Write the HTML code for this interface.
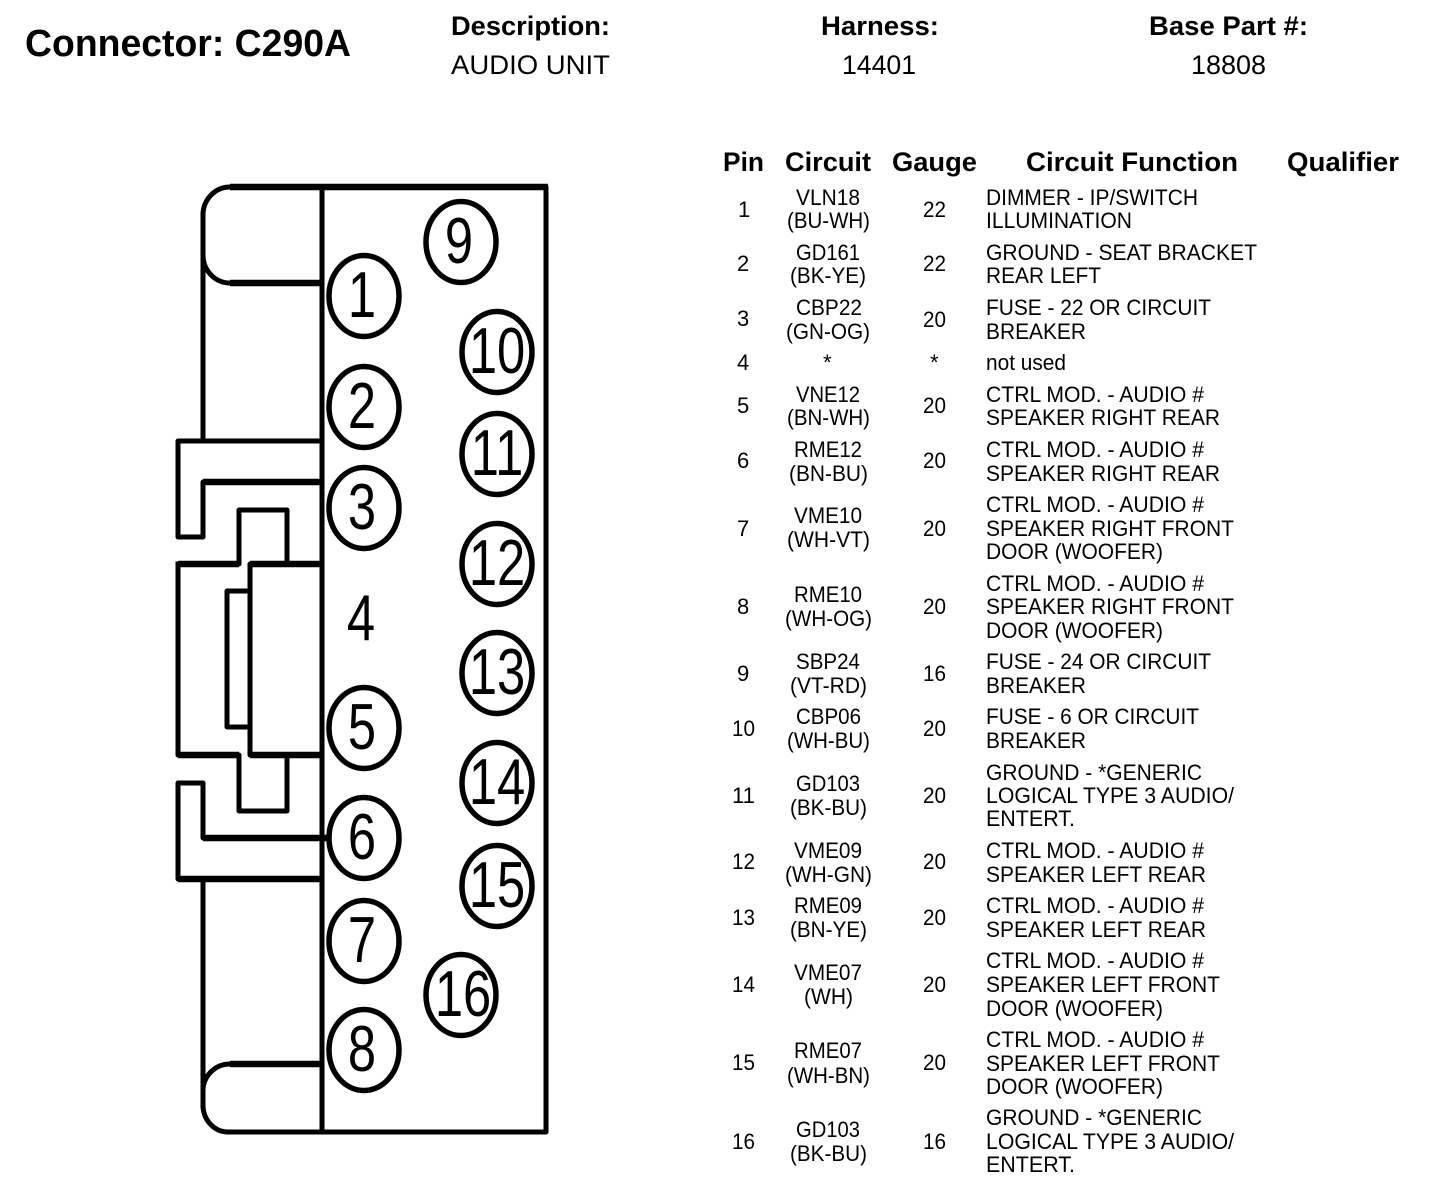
<!DOCTYPE html>
<html><head><meta charset="utf-8"><style>
html,body{margin:0;padding:0;background:#fff;width:1440px;height:1202px;overflow:hidden}
svg{display:block}
text{font-family:"Liberation Sans",Arial,sans-serif;fill:#000}
.b{font-weight:bold;font-size:27px}
.r{font-size:27px}
.t{font-size:22px}
.d{font-size:65px;text-anchor:middle}
.l{fill:none;stroke:#000;stroke-width:5;stroke-linejoin:round;stroke-linecap:square}
.h{fill:none;stroke:#000;stroke-width:6.5;stroke-linecap:butt}
.c{fill:#fff;stroke:#000;stroke-width:5.5}
</style></head><body>
<svg width="1440" height="1202" viewBox="0 0 1440 1202" xmlns="http://www.w3.org/2000/svg">
<rect width="1440" height="1202" fill="#fff"/>
<text class="b" x="25" y="56" style="font-size:38px" textLength="326" lengthAdjust="spacingAndGlyphs">Connector: C290A</text>
<text class="b" x="451" y="35" textLength="159" lengthAdjust="spacingAndGlyphs">Description:</text>
<text class="r" x="451" y="74" textLength="159" lengthAdjust="spacingAndGlyphs">AUDIO UNIT</text>
<text class="b" x="821" y="35" textLength="118" lengthAdjust="spacingAndGlyphs">Harness:</text>
<text class="r" x="842" y="74" textLength="74" lengthAdjust="spacingAndGlyphs">14401</text>
<text class="b" x="1149" y="35" textLength="159" lengthAdjust="spacingAndGlyphs">Base Part #:</text>
<text class="r" x="1191" y="74" textLength="75" lengthAdjust="spacingAndGlyphs">18808</text>

<text class="b" x="723" y="171" textLength="41" lengthAdjust="spacingAndGlyphs">Pin</text>
<text class="b" x="785" y="171" textLength="86" lengthAdjust="spacingAndGlyphs">Circuit</text>
<text class="b" x="892" y="171" textLength="85" lengthAdjust="spacingAndGlyphs">Gauge</text>
<text class="b" x="1026" y="171" textLength="212" lengthAdjust="spacingAndGlyphs">Circuit Function</text>
<text class="b" x="1287" y="171" textLength="112" lengthAdjust="spacingAndGlyphs">Qualifier</text>

<!-- connector outline -->
<path class="l" d="M322 187H546V1132H228A25 27 0 0 1 203 1105V879"/>
<path class="l" d="M322 187H230A27 28 0 0 0 203 215V255A27 28 0 0 0 230 283H322"/>
<path class="l" d="M203 215V441"/>
<path class="l" d="M322 187V1132"/>
<path class="l" d="M322 441H178V537H203V482H322"/>
<path class="l" d="M178 564H239V510H287V564"/>
<path class="l" d="M322 564H250V755H322"/>
<path class="l" d="M178 564V755H239V811H287V755"/>
<path class="l" d="M250 591H227V727H250"/>
<path class="l" d="M328 838H203V783H178V879H322"/>
<path class="l" d="M203 1105V1091A27 27 0 0 1 230 1064H322"/>
<!-- heavier horizontal rules -->
<path class="h" d="M230 187H548M230 283H322M203 482H322M178 564H239M250 564H322M178 755H239M250 755H322M203 838H328M178 879H322M230 1064H322"/>

<!-- cavities -->
<ellipse class="c" cx="364" cy="296" rx="35" ry="40.5"/>
<ellipse class="c" cx="364" cy="407" rx="35" ry="40.5"/>
<ellipse class="c" cx="364" cy="508" rx="35" ry="40.5"/>
<ellipse class="c" cx="364" cy="728" rx="35" ry="40.5"/>
<ellipse class="c" cx="364" cy="838" rx="35" ry="40.5"/>
<ellipse class="c" cx="364" cy="941" rx="35" ry="40.5"/>
<ellipse class="c" cx="364" cy="1050" rx="35" ry="40.5"/>
<ellipse class="c" cx="461" cy="242" rx="35" ry="40.5"/>
<ellipse class="c" cx="497" cy="352" rx="35" ry="40.5"/>
<ellipse class="c" cx="497" cy="454" rx="35" ry="40.5"/>
<ellipse class="c" cx="497" cy="564" rx="35" ry="40.5"/>
<ellipse class="c" cx="497" cy="673" rx="35" ry="40.5"/>
<ellipse class="c" cx="497" cy="783" rx="35" ry="40.5"/>
<ellipse class="c" cx="497" cy="886" rx="35" ry="40.5"/>
<ellipse class="c" cx="461" cy="995" rx="35" ry="40.5"/>

<text class="d" transform="translate(362 317) scale(.78 1)">1</text>
<text class="d" transform="translate(362 428) scale(.78 1)">2</text>
<text class="d" transform="translate(362 529) scale(.78 1)">3</text>
<text class="d" transform="translate(361 640) scale(.78 1)">4</text>
<text class="d" transform="translate(362 749) scale(.78 1)">5</text>
<text class="d" transform="translate(362 859) scale(.78 1)">6</text>
<text class="d" transform="translate(362 962) scale(.78 1)">7</text>
<text class="d" transform="translate(362 1071) scale(.78 1)">8</text>
<text class="d" transform="translate(459 263) scale(.78 1)">9</text>
<text class="d" transform="translate(497 373) scale(.78 1)">10</text>
<text class="d" transform="translate(497 475) scale(.78 1)">11</text>
<text class="d" transform="translate(497 585) scale(.78 1)">12</text>
<text class="d" transform="translate(497 694) scale(.78 1)">13</text>
<text class="d" transform="translate(497 804) scale(.78 1)">14</text>
<text class="d" transform="translate(497 907) scale(.78 1)">15</text>
<text class="d" transform="translate(463 1016) scale(.78 1)">16</text>

<!-- pins -->
<text class="t" x="738" y="217">1</text>
<text class="t" x="737" y="271">2</text>
<text class="t" x="737" y="326">3</text>
<text class="t" x="737" y="370">4</text>
<text class="t" x="737" y="413">5</text>
<text class="t" x="737" y="468">6</text>
<text class="t" x="737" y="536">7</text>
<text class="t" x="737" y="614">8</text>
<text class="t" x="737" y="681">9</text>
<text class="t" x="732" y="736" textLength="23" lengthAdjust="spacingAndGlyphs">10</text>
<text class="t" x="732" y="803" textLength="23" lengthAdjust="spacingAndGlyphs">11</text>
<text class="t" x="732" y="869" textLength="23" lengthAdjust="spacingAndGlyphs">12</text>
<text class="t" x="732" y="925" textLength="23" lengthAdjust="spacingAndGlyphs">13</text>
<text class="t" x="732" y="992" textLength="23" lengthAdjust="spacingAndGlyphs">14</text>
<text class="t" x="732" y="1070" textLength="23" lengthAdjust="spacingAndGlyphs">15</text>
<text class="t" x="732" y="1149" textLength="23" lengthAdjust="spacingAndGlyphs">16</text>

<!-- circuits -->
<text class="t" x="796" y="205" textLength="64" lengthAdjust="spacingAndGlyphs">VLN18</text>
<text class="t" x="787" y="228" textLength="83" lengthAdjust="spacingAndGlyphs">(BU-WH)</text>
<text class="t" x="796" y="260" textLength="64" lengthAdjust="spacingAndGlyphs">GD161</text>
<text class="t" x="790" y="283" textLength="76" lengthAdjust="spacingAndGlyphs">(BK-YE)</text>
<text class="t" x="796" y="315" textLength="66" lengthAdjust="spacingAndGlyphs">CBP22</text>
<text class="t" x="786" y="339" textLength="84" lengthAdjust="spacingAndGlyphs">(GN-OG)</text>
<text class="t" x="823" y="370">*</text>
<text class="t" x="796" y="402" textLength="64" lengthAdjust="spacingAndGlyphs">VNE12</text>
<text class="t" x="787" y="425" textLength="83" lengthAdjust="spacingAndGlyphs">(BN-WH)</text>
<text class="t" x="794" y="457" textLength="68" lengthAdjust="spacingAndGlyphs">RME12</text>
<text class="t" x="789" y="481" textLength="79" lengthAdjust="spacingAndGlyphs">(BN-BU)</text>
<text class="t" x="794" y="523" textLength="68" lengthAdjust="spacingAndGlyphs">VME10</text>
<text class="t" x="787" y="547" textLength="83" lengthAdjust="spacingAndGlyphs">(WH-VT)</text>
<text class="t" x="794" y="602" textLength="68" lengthAdjust="spacingAndGlyphs">RME10</text>
<text class="t" x="785" y="626" textLength="87" lengthAdjust="spacingAndGlyphs">(WH-OG)</text>
<text class="t" x="796" y="669" textLength="64" lengthAdjust="spacingAndGlyphs">SBP24</text>
<text class="t" x="790" y="693" textLength="77" lengthAdjust="spacingAndGlyphs">(VT-RD)</text>
<text class="t" x="796" y="724" textLength="65" lengthAdjust="spacingAndGlyphs">CBP06</text>
<text class="t" x="787" y="748" textLength="83" lengthAdjust="spacingAndGlyphs">(WH-BU)</text>
<text class="t" x="796" y="791" textLength="64" lengthAdjust="spacingAndGlyphs">GD103</text>
<text class="t" x="790" y="815" textLength="77" lengthAdjust="spacingAndGlyphs">(BK-BU)</text>
<text class="t" x="794" y="858" textLength="68" lengthAdjust="spacingAndGlyphs">VME09</text>
<text class="t" x="785" y="882" textLength="87" lengthAdjust="spacingAndGlyphs">(WH-GN)</text>
<text class="t" x="794" y="913" textLength="68" lengthAdjust="spacingAndGlyphs">RME09</text>
<text class="t" x="790" y="937" textLength="77" lengthAdjust="spacingAndGlyphs">(BN-YE)</text>
<text class="t" x="794" y="980" textLength="68" lengthAdjust="spacingAndGlyphs">VME07</text>
<text class="t" x="804" y="1004" textLength="49" lengthAdjust="spacingAndGlyphs">(WH)</text>
<text class="t" x="794" y="1058" textLength="68" lengthAdjust="spacingAndGlyphs">RME07</text>
<text class="t" x="787" y="1083" textLength="83" lengthAdjust="spacingAndGlyphs">(WH-BN)</text>
<text class="t" x="796" y="1137" textLength="64" lengthAdjust="spacingAndGlyphs">GD103</text>
<text class="t" x="790" y="1161" textLength="77" lengthAdjust="spacingAndGlyphs">(BK-BU)</text>

<!-- gauges -->
<text class="t" x="923" y="217" textLength="23" lengthAdjust="spacingAndGlyphs">22</text>
<text class="t" x="923" y="271" textLength="23" lengthAdjust="spacingAndGlyphs">22</text>
<text class="t" x="923" y="327" textLength="23" lengthAdjust="spacingAndGlyphs">20</text>
<text class="t" x="930" y="370">*</text>
<text class="t" x="923" y="413" textLength="23" lengthAdjust="spacingAndGlyphs">20</text>
<text class="t" x="923" y="468" textLength="23" lengthAdjust="spacingAndGlyphs">20</text>
<text class="t" x="923" y="536" textLength="23" lengthAdjust="spacingAndGlyphs">20</text>
<text class="t" x="923" y="614" textLength="23" lengthAdjust="spacingAndGlyphs">20</text>
<text class="t" x="923" y="681" textLength="23" lengthAdjust="spacingAndGlyphs">16</text>
<text class="t" x="923" y="736" textLength="23" lengthAdjust="spacingAndGlyphs">20</text>
<text class="t" x="923" y="803" textLength="23" lengthAdjust="spacingAndGlyphs">20</text>
<text class="t" x="923" y="869" textLength="23" lengthAdjust="spacingAndGlyphs">20</text>
<text class="t" x="923" y="925" textLength="23" lengthAdjust="spacingAndGlyphs">20</text>
<text class="t" x="923" y="992" textLength="23" lengthAdjust="spacingAndGlyphs">20</text>
<text class="t" x="923" y="1070" textLength="23" lengthAdjust="spacingAndGlyphs">20</text>
<text class="t" x="923" y="1149" textLength="23" lengthAdjust="spacingAndGlyphs">16</text>

<!-- functions -->
<text class="t" x="986" y="205" textLength="212" lengthAdjust="spacingAndGlyphs">DIMMER - IP/SWITCH</text>
<text class="t" x="986" y="228" textLength="146" lengthAdjust="spacingAndGlyphs">ILLUMINATION</text>
<text class="t" x="986" y="260" textLength="271" lengthAdjust="spacingAndGlyphs">GROUND - SEAT BRACKET</text>
<text class="t" x="986" y="283" textLength="115" lengthAdjust="spacingAndGlyphs">REAR LEFT</text>
<text class="t" x="986" y="315" textLength="225" lengthAdjust="spacingAndGlyphs">FUSE - 22 OR CIRCUIT</text>
<text class="t" x="986" y="339" textLength="100" lengthAdjust="spacingAndGlyphs">BREAKER</text>
<text class="t" x="986" y="370" textLength="80" lengthAdjust="spacingAndGlyphs">not used</text>
<text class="t" x="986" y="402" textLength="218" lengthAdjust="spacingAndGlyphs">CTRL MOD. - AUDIO #</text>
<text class="t" x="986" y="425" textLength="234" lengthAdjust="spacingAndGlyphs">SPEAKER RIGHT REAR</text>
<text class="t" x="986" y="457" textLength="218" lengthAdjust="spacingAndGlyphs">CTRL MOD. - AUDIO #</text>
<text class="t" x="986" y="481" textLength="234" lengthAdjust="spacingAndGlyphs">SPEAKER RIGHT REAR</text>
<text class="t" x="986" y="512" textLength="218" lengthAdjust="spacingAndGlyphs">CTRL MOD. - AUDIO #</text>
<text class="t" x="986" y="536" textLength="248" lengthAdjust="spacingAndGlyphs">SPEAKER RIGHT FRONT</text>
<text class="t" x="986" y="559" textLength="177" lengthAdjust="spacingAndGlyphs">DOOR (WOOFER)</text>
<text class="t" x="986" y="591" textLength="218" lengthAdjust="spacingAndGlyphs">CTRL MOD. - AUDIO #</text>
<text class="t" x="986" y="614" textLength="248" lengthAdjust="spacingAndGlyphs">SPEAKER RIGHT FRONT</text>
<text class="t" x="986" y="638" textLength="177" lengthAdjust="spacingAndGlyphs">DOOR (WOOFER)</text>
<text class="t" x="986" y="669" textLength="225" lengthAdjust="spacingAndGlyphs">FUSE - 24 OR CIRCUIT</text>
<text class="t" x="986" y="693" textLength="100" lengthAdjust="spacingAndGlyphs">BREAKER</text>
<text class="t" x="986" y="724" textLength="213" lengthAdjust="spacingAndGlyphs">FUSE - 6 OR CIRCUIT</text>
<text class="t" x="986" y="748" textLength="100" lengthAdjust="spacingAndGlyphs">BREAKER</text>
<text class="t" x="986" y="780" textLength="216" lengthAdjust="spacingAndGlyphs">GROUND - *GENERIC</text>
<text class="t" x="986" y="803" textLength="248" lengthAdjust="spacingAndGlyphs">LOGICAL TYPE 3 AUDIO/</text>
<text class="t" x="986" y="826" textLength="89" lengthAdjust="spacingAndGlyphs">ENTERT.</text>
<text class="t" x="986" y="858" textLength="218" lengthAdjust="spacingAndGlyphs">CTRL MOD. - AUDIO #</text>
<text class="t" x="986" y="882" textLength="220" lengthAdjust="spacingAndGlyphs">SPEAKER LEFT REAR</text>
<text class="t" x="986" y="913" textLength="218" lengthAdjust="spacingAndGlyphs">CTRL MOD. - AUDIO #</text>
<text class="t" x="986" y="937" textLength="220" lengthAdjust="spacingAndGlyphs">SPEAKER LEFT REAR</text>
<text class="t" x="986" y="968" textLength="218" lengthAdjust="spacingAndGlyphs">CTRL MOD. - AUDIO #</text>
<text class="t" x="986" y="992" textLength="234" lengthAdjust="spacingAndGlyphs">SPEAKER LEFT FRONT</text>
<text class="t" x="986" y="1016" textLength="177" lengthAdjust="spacingAndGlyphs">DOOR (WOOFER)</text>
<text class="t" x="986" y="1047" textLength="218" lengthAdjust="spacingAndGlyphs">CTRL MOD. - AUDIO #</text>
<text class="t" x="986" y="1071" textLength="234" lengthAdjust="spacingAndGlyphs">SPEAKER LEFT FRONT</text>
<text class="t" x="986" y="1094" textLength="177" lengthAdjust="spacingAndGlyphs">DOOR (WOOFER)</text>
<text class="t" x="986" y="1125" textLength="216" lengthAdjust="spacingAndGlyphs">GROUND - *GENERIC</text>
<text class="t" x="986" y="1149" textLength="248" lengthAdjust="spacingAndGlyphs">LOGICAL TYPE 3 AUDIO/</text>
<text class="t" x="986" y="1172" textLength="89" lengthAdjust="spacingAndGlyphs">ENTERT.</text>
</svg>
</body></html>
